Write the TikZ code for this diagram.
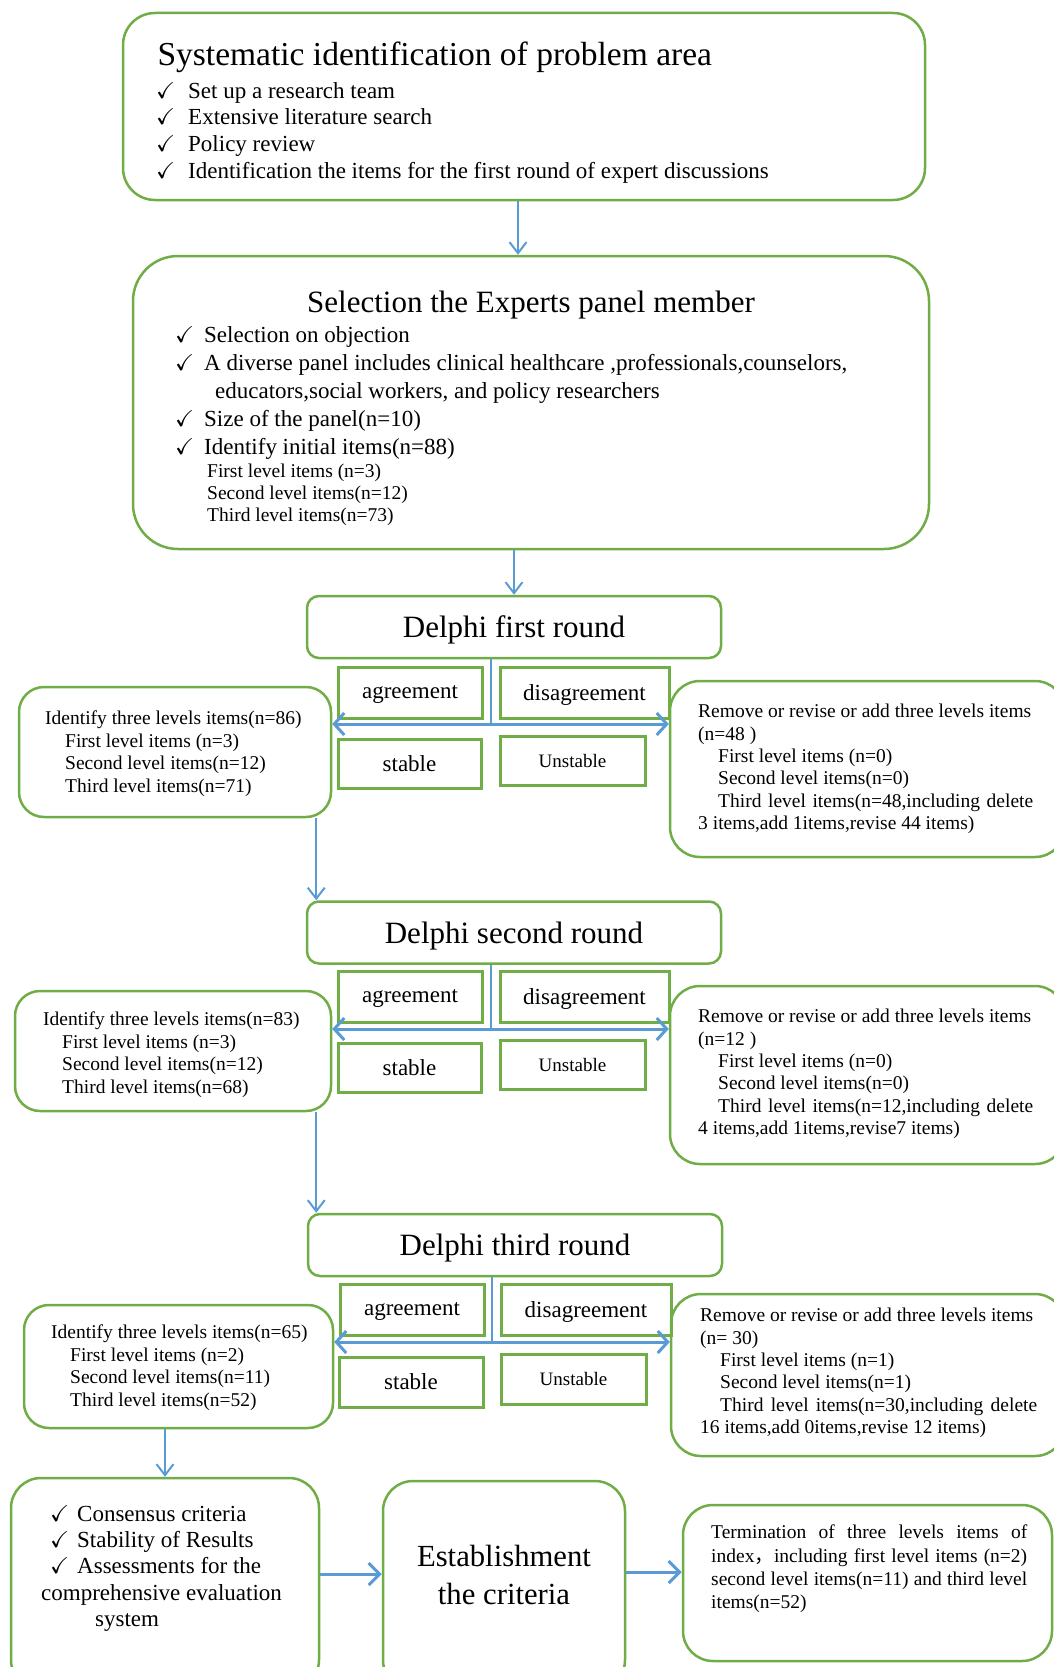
\documentclass[tikz,border=0pt]{standalone}
\usepackage{amssymb}
\usepackage{fontspec}
\setmainfont{Liberation Serif}
\newfontfamily\cjk{Noto Sans CJK SC}
\usetikzlibrary{positioning, arrows.meta}
\definecolor{boxgreen}{RGB}{112,173,71}
\definecolor{flowblue}{RGB}{91,155,213}
\newcommand{\tickmark}[1][32pt]{\makebox[#1][l]{$\checkmark$}}
\tikzset{
  panelbox/.style={draw=boxgreen, line width=2.5pt, rounded corners=#1, inner sep=0pt},
  panelbox/.default=28pt,
  roundbox/.style={draw=boxgreen, line width=2.5pt, rounded corners=12pt, minimum width=414pt, minimum height=62pt, font=\fontsize{31}{36}\selectfont, text depth=0pt},
  tagbox/.style={draw=boxgreen, line width=3pt, minimum height=51pt, font=\fontsize{23}{27}\selectfont, text depth=0pt},
  listtext/.style={align=left, anchor=north west, inner sep=0pt, font=\fontsize{23}{26.7}\selectfont},
  smalltext/.style={align=left, anchor=north west, inner sep=0pt, font=\fontsize{19.5}{22.4}\selectfont},
  flowline/.style={draw=flowblue, line width=2pt},
  flowarrow/.style={flowline, >={Straight Barb[length=11pt,width=17pt]}, ->},
  bigarrow/.style={flowline, line width=3pt, >={Straight Barb[length=11pt,width=22pt]}, ->},
  bothway/.style={flowline, line width=3pt, >={Straight Barb[length=10pt,width=22pt]}, <->}
}
\begin{document}
\begin{tikzpicture}[x=1pt, y=-1pt]
  \useasboundingbox (0,0) rectangle (1054,1667);

  % problem area
  \node[panelbox=32pt, minimum width=802pt, minimum height=187pt] (problem) at (524,106.5) {};
  \node[anchor=base west, font=\fontsize{33.5}{38}\selectfont] (problemtitle) at (154,66) {Systematic identification of problem area};
  \node[listtext] (problemlist) at (156,82) {\tickmark Set up a research team\\ \tickmark Extensive literature search\\ \tickmark Policy review\\ \tickmark Identification the items for the first round of expert discussions};

  % experts panel
  \node[panelbox=45pt, minimum width=796pt, minimum height=293pt] (experts) at (531,402.5) {};
  \node[anchor=base, font=\fontsize{31}{36}\selectfont] (expertstitle) at (531,312) {Selection the Experts panel member};
  \node[listtext, font=\fontsize{23}{28}\selectfont] (expertslist) at (175,326) {\tickmark[29pt]Selection on objection\\ \tickmark[29pt]A diverse panel includes clinical healthcare ,professionals,counselors,\\ \hspace*{40pt}educators,social workers, and policy researchers\\ \tickmark[29pt]Size of the panel(n=10)\\ \tickmark[29pt]Identify initial items(n=88)};
  \node[smalltext, font=\fontsize{19.5}{22}\selectfont] (expertsitems) at (207,464) {First level items (n=3)\\Second level items(n=12)\\Third level items(n=73)};

  % round 1
  \node[roundbox] (round1) at (514,627) {Delphi first round};
  \node[tagbox, minimum width=144pt] (agree1) at (410,692.5) {agreement};
  \node[tagbox, minimum width=169pt] (disagree1) at (584.5,692.5) {disagreement};
  \node[tagbox, minimum width=143pt, minimum height=49pt] (stable1) at (409.5,763.5) {stable};
  \node[tagbox, minimum width=145pt, minimum height=49pt, font=\fontsize{19}{22}\selectfont] (unstable1) at (572.5,760.5) {Unstable};
  \node[panelbox=25pt, minimum width=312pt, minimum height=130pt] (keep1) at (175,752) {};
  \node[smalltext] (keep1text) at (45,711) {Identify three levels items(n=86)\\ \hspace*{20pt}First level items (n=3)\\ \hspace*{20pt}Second level items(n=12)\\ \hspace*{20pt}Third level items(n=71)};
  \node[panelbox=30pt, minimum width=395pt, minimum height=176pt] (revise1) at (867.5,769) {};
  \node[smalltext] (revise1text) at (698,704) {Remove or revise or add three levels items\\(n=48 )\\ \hspace*{20pt}First level items (n=0)\\ \hspace*{20pt}Second level items(n=0)\\ \hspace*{20pt}\makebox[315pt][s]{Third level items(n=48,including delete}\\3 items,add 1items,revise 44 items)};
  \coordinate (hub1) at (491,724);
  \draw[flowline] (hub1 |- round1.south) -- (hub1);
  \draw[bothway] (keep1.east |- hub1) -- (revise1.west |- hub1);

  % round 2
  \node[roundbox] (round2) at (514,932.5) {Delphi second round};
  \node[tagbox, minimum width=144pt] (agree2) at (410,996.5) {agreement};
  \node[tagbox, minimum width=169pt] (disagree2) at (584.5,996.5) {disagreement};
  \node[tagbox, minimum width=143pt, minimum height=49pt] (stable2) at (409.5,1068) {stable};
  \node[tagbox, minimum width=145pt, minimum height=49pt, font=\fontsize{19}{22}\selectfont] (unstable2) at (572.5,1064.5) {Unstable};
  \node[panelbox=25pt, minimum width=316pt, minimum height=120pt] (keep2) at (173,1051) {};
  \node[smalltext] (keep2text) at (43,1012) {Identify three levels items(n=83)\\ \hspace*{19pt}First level items (n=3)\\ \hspace*{19pt}Second level items(n=12)\\ \hspace*{19pt}Third level items(n=68)};
  \node[panelbox=30pt, minimum width=395pt, minimum height=178pt] (revise2) at (867.5,1075) {};
  \node[smalltext] (revise2text) at (698,1009) {Remove or revise or add three levels items\\(n=12 )\\ \hspace*{20pt}First level items (n=0)\\ \hspace*{20pt}Second level items(n=0)\\ \hspace*{20pt}\makebox[315pt][s]{Third level items(n=12,including delete}\\4 items,add 1items,revise7 items)};
  \coordinate (hub2) at (491,1029);
  \draw[flowline] (hub2 |- round2.south) -- (hub2);
  \draw[bothway] (keep2.east |- hub2) -- (revise2.west |- hub2);

  % round 3
  \node[roundbox] (round3) at (515,1245) {Delphi third round};
  \node[tagbox, minimum width=144pt] (agree3) at (412,1309.5) {agreement};
  \node[tagbox, minimum width=170pt] (disagree3) at (586,1309.5) {disagreement};
  \node[tagbox, minimum width=144pt, minimum height=50pt] (stable3) at (411,1382) {stable};
  \node[tagbox, minimum width=145pt, minimum height=50pt, font=\fontsize{19}{22}\selectfont] (unstable3) at (573.5,1379) {Unstable};
  \node[panelbox=25pt, minimum width=309pt, minimum height=123pt] (keep3) at (178.5,1366.5) {};
  \node[smalltext] (keep3text) at (51,1325) {Identify three levels items(n=65)\\ \hspace*{19pt}First level items (n=2)\\ \hspace*{19pt}Second level items(n=11)\\ \hspace*{19pt}Third level items(n=52)};
  \node[panelbox=30pt, minimum width=394pt, minimum height=162pt] (revise3) at (868,1375) {};
  \node[smalltext] (revise3text) at (700,1308) {Remove or revise or add three levels items\\(n= 30)\\ \hspace*{20pt}First level items (n=1)\\ \hspace*{20pt}Second level items(n=1)\\ \hspace*{20pt}\makebox[317pt][s]{Third level items(n=30,including delete}\\16 items,add 0items,revise 12 items)};
  \coordinate (hub3) at (492,1342);
  \draw[flowline] (hub3 |- round3.south) -- (hub3);
  \draw[bothway] (keep3.east |- hub3) -- (revise3.west |- hub3);

  % results
  \node[panelbox=30pt, minimum width=308pt, minimum height=212pt] (consensus) at (165,1584) {};
  \node[listtext, font=\fontsize{23}{26.3}\selectfont] (consensustext) at (41,1505) {\hspace*{9pt}\tickmark[27pt]Consensus criteria\\ \hspace*{9pt}\tickmark[27pt]Stability of Results\\ \hspace*{9pt}\tickmark[27pt]Assessments for the\\comprehensive evaluation\\ \hspace*{54pt}system};
  \node[panelbox=30pt, minimum width=242pt, minimum height=209pt] (establish) at (504,1585.5) {};
  \node[anchor=north, align=center, inner sep=0pt, font=\fontsize{30.7}{38}\selectfont] (establishtext) at (504,1545) {Establishment\\the criteria};
  \node[panelbox=30pt, minimum width=369pt, minimum height=156pt] (termination) at (867.5,1583) {};
  \node[smalltext, align=justify, text width=316pt, font=\fontsize{19.5}{23.3}\selectfont] (terminationtext) at (711,1525) {\noindent Termination of three levels items of\linebreak index{\cjk ，}including first level items (n=2)\linebreak second level items(n=11) and third level\linebreak items(n=52)};

  % connectors
  \coordinate (drop0) at ([xshift=-6pt]problem.south);
  \draw[flowarrow] (drop0) -- (drop0 |- experts.north);
  \draw[flowarrow] (round1.north |- experts.south) -- (round1.north);
  \coordinate (drop1) at ([xshift=-16pt]keep1.south east);
  \draw[flowarrow] (drop1) -- (drop1 |- round2.north);
  \coordinate (drop2) at ([xshift=-16pt]keep2.south east);
  \draw[flowarrow] (drop2) -- (drop2 |- round3.north);
  \draw[flowarrow] (consensus.north |- keep3.south) -- (consensus.north);
  \coordinate (a2b) at (0,1574);
  \draw[bigarrow] (consensus.east |- a2b) -- (establish.west |- a2b);
  \coordinate (b2c) at (0,1572);
  \draw[bigarrow] (establish.east |- b2c) -- (termination.west |- b2c);
\end{tikzpicture}
\end{document}
